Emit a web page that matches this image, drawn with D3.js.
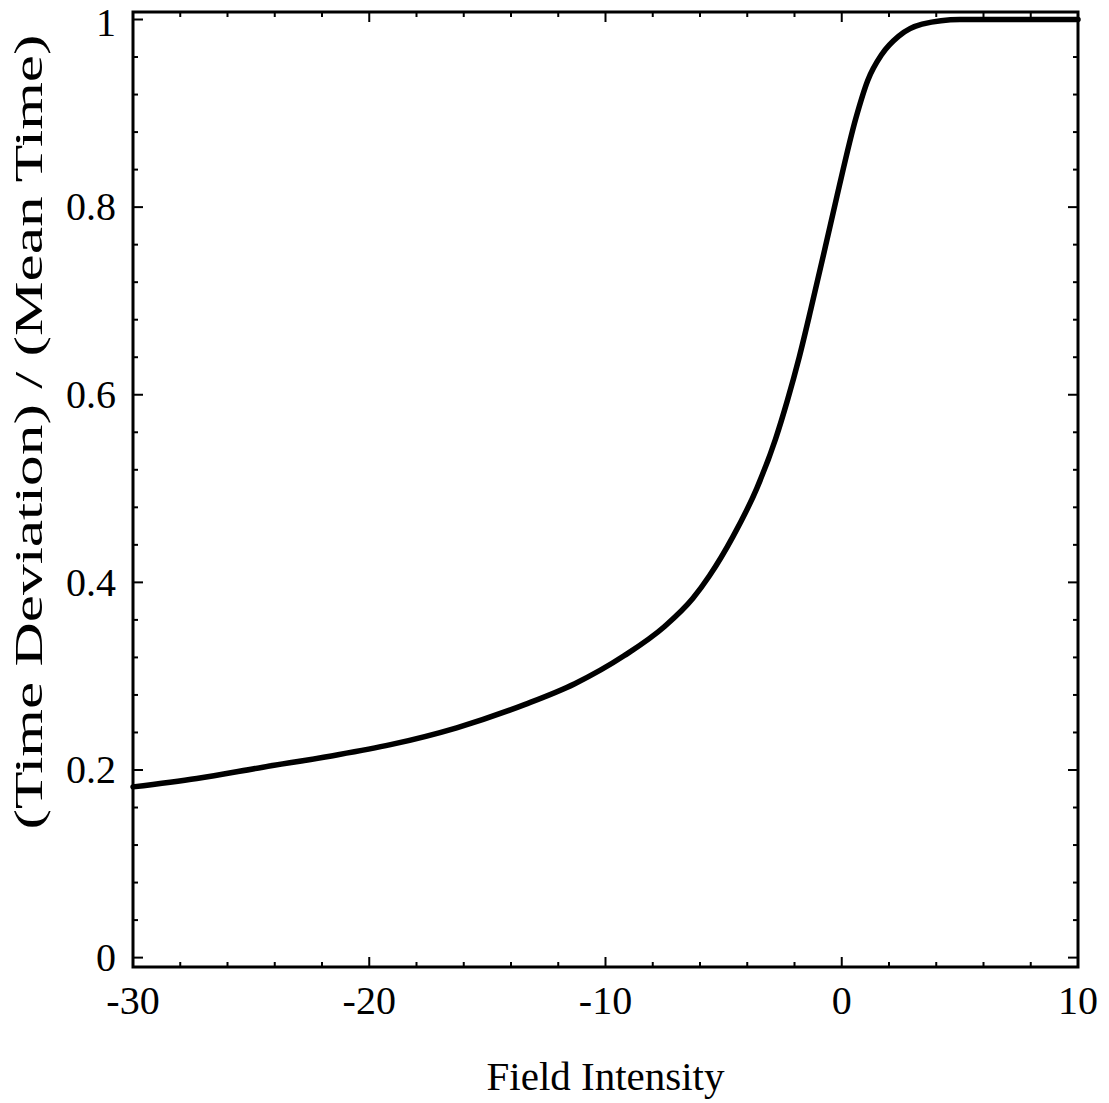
<!DOCTYPE html>
<html>
<head>
<meta charset="utf-8">
<script src="https://cdn.jsdelivr.net/npm/d3@7"></script>
<style>
  html, body { margin: 0; padding: 0; background: #fff; }
  svg { display: block; }
  text { font-family: "Liberation Serif", "Times New Roman", serif; fill: #000; }
</style>
</head>
<body>
<svg id="chart" width="1109" height="1103"></svg>
<script>
// Data
const fieldIntensity = [-30, -27.3, -24.5, -21.6, -19.1, -16.3, -13.4, -11.3, -9.2, -7.5, -6.3, -5.6, -4.6, -3.6, -2.8, -2.3, -1.8, -1.3, -0.7, -0.2, 0.6, 1.1, 1.7, 2.4, 3.4, 5.0, 7.5, 10];
const timeRatio      = [0.182, 0.191, 0.203, 0.215, 0.227, 0.245, 0.270, 0.292, 0.322, 0.353, 0.383, 0.407, 0.449, 0.500, 0.553, 0.594, 0.640, 0.692, 0.757, 0.812, 0.895, 0.935, 0.963, 0.982, 0.995, 1.0, 1.0, 1.0];
const xTickLabels = [-30, -20, -10, 0, 10];
const yTickLabels = [0, 0.2, 0.4, 0.6, 0.8, 1];
const xLabel = "Field Intensity";
const yLabel = "(Time Deviation) / (Mean Time)";

(function () {
const svg = d3.select("#chart");
const pL = 133, pR = 1078, pT = 12, pB = 967;

const x = d3.scaleLinear().domain([-30, 10]).range([pL, pR]);
const y = d3.scaleLinear().domain([-0.01, 1.008]).range([pB, pT]);

const xMinor = d3.range(-30, 10.001, 2);
const yMinor = d3.range(0, 1.0001, 0.04);

// Frame
svg.append("rect")
  .attr("x", pL).attr("y", pT)
  .attr("width", pR - pL).attr("height", pB - pT)
  .attr("fill", "none").attr("stroke", "#000").attr("stroke-width", 3);

// Ticks (inward, all four sides)
const tickG = svg.append("g").attr("stroke", "#000").attr("stroke-width", 2);
xMinor.forEach(v => {
  const major = xTickLabels.includes(Math.round(v));
  const len = major ? 10 : 5;
  tickG.append("line").attr("x1", x(v)).attr("x2", x(v)).attr("y1", pB).attr("y2", pB - len);
  tickG.append("line").attr("x1", x(v)).attr("x2", x(v)).attr("y1", pT).attr("y2", pT + len);
});
yMinor.forEach(v => {
  const major = yTickLabels.some(t => Math.abs(t - v) < 1e-6);
  const len = major ? 10 : 5;
  tickG.append("line").attr("x1", pL).attr("x2", pL + len).attr("y1", y(v)).attr("y2", y(v));
  tickG.append("line").attr("x1", pR).attr("x2", pR - len).attr("y1", y(v)).attr("y2", y(v));
});

// Tick labels
svg.append("g").selectAll("text").data(xTickLabels).join("text")
  .attr("x", d => x(d)).attr("y", 1014)
  .attr("text-anchor", "middle").attr("font-size", 40)
  .text(d => d);
svg.append("g").selectAll("text").data(yTickLabels).join("text")
  .attr("x", 116).attr("y", d => Math.max(y(d), 23)).attr("dy", "0.33em")
  .attr("text-anchor", "end").attr("font-size", 40)
  .text(d => d);

// Axis titles
svg.append("text")
  .attr("x", (pL + pR) / 2).attr("y", 1090)
  .attr("text-anchor", "middle").attr("font-size", 41)
  .text(xLabel);
svg.append("text")
  .attr("transform", "translate(42,432) rotate(-90)")
  .attr("text-anchor", "middle").attr("font-size", 40)
  .attr("textLength", 795).attr("lengthAdjust", "spacingAndGlyphs")
  .text(yLabel);

// Curve
const pts = fieldIntensity.map((v, i) => [v, timeRatio[i]]);
const line = d3.line().x(d => x(d[0])).y(d => y(d[1])).curve(d3.curveMonotoneX);
svg.append("path").datum(pts)
  .attr("d", line)
  .attr("fill", "none").attr("stroke", "#000").attr("stroke-width", 5.5)
  .attr("stroke-linejoin", "round").attr("stroke-linecap", "round");
})();
</script>
</body>
</html>
